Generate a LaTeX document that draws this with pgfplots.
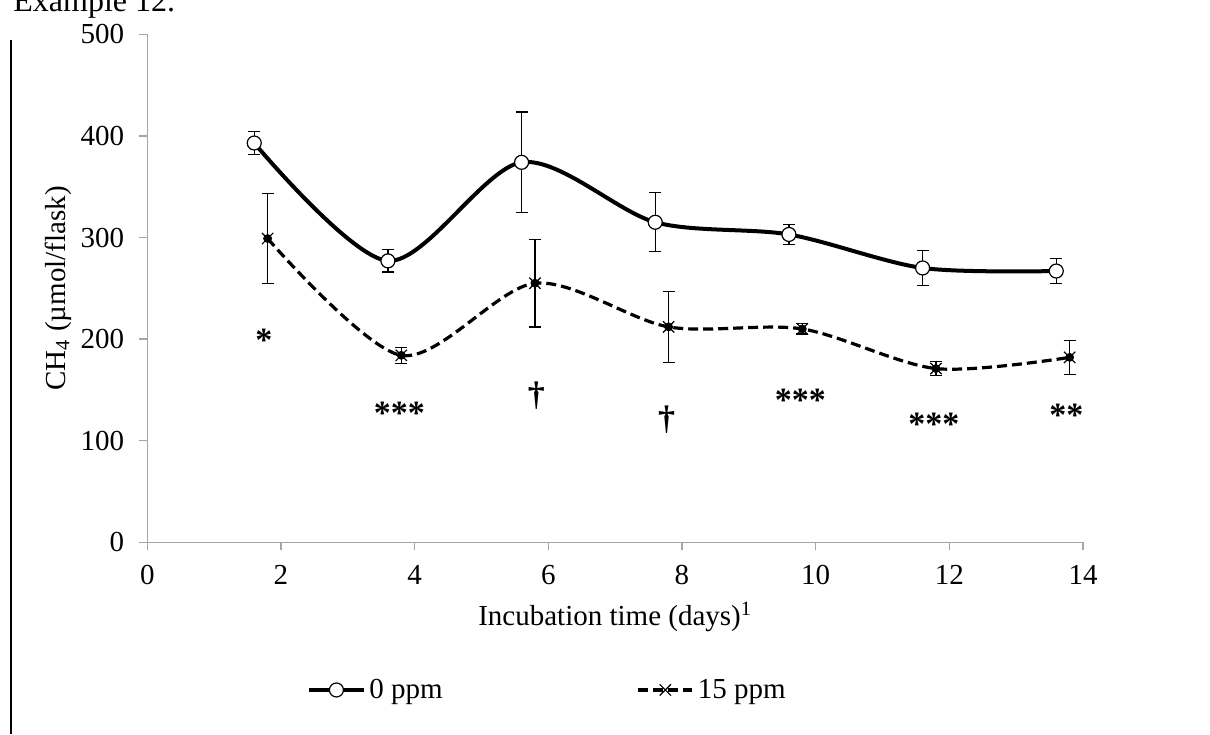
\documentclass[border=0pt]{standalone}
\usepackage{fontspec}
\setmainfont{Liberation Serif}
\usepackage{pgfplots}
\pgfplotsset{compat=1.18}

\newcommand\ticksize{\fontsize{14.5}{17}\selectfont}
\newcommand\sigsize{\fontsize{17}{20}\selectfont\bfseries}

\begin{document}
\begin{tikzpicture}
\begin{axis}[
    at={(73.65pt,95.85pt)}, anchor=south west,
    scale only axis, width=467.85pt, height=254pt,
    xmin=0, xmax=14, ymin=0, ymax=500,
    xtick={0,2,...,14}, ytick={0,100,...,500},
    axis x line=bottom, axis y line=left,
    axis line style={-, draw=gray!70, line width=0.7pt},
    tick style={draw=gray!70, line width=0.7pt},
    tick align=outside, major tick length=4pt,
    /pgf/number format/assume math mode=true,
    ticklabel style={font=\ticksize},
    yticklabel style={anchor=east, xshift=-4pt},
    xticklabel style={anchor=north, yshift=-4pt},
    label style={font=\ticksize},
    xlabel={Incubation time (days)\textsuperscript{1}},
    ylabel={CH\textsubscript{4} (µmol/flask)},
    xlabel style={at={(axis description cs:0.5,-0.147)}, anchor=center},
    ylabel style={at={(axis description cs:-0.0954,0.5)}, anchor=center},
    legend style={at={(axis description cs:0.1707,-0.2907)}, anchor=west,
        draw=none, fill=none, font=\ticksize, legend columns=2,
        inner sep=0pt},
    legend image code/.code={
        \draw[mark repeat=2, mark phase=2, #1]
            plot coordinates {(0pt,0pt) (13.5pt,0pt) (27pt,0pt)};
    },
]
% error bars first so the markers sit on top
\addplot[forget plot, only marks, mark=none,
    error bars/.cd, y dir=both, y explicit,
    error bar style={black, solid, line width=0.6pt},
    error mark options={rotate=90, mark size=3pt, line width=0.6pt, solid}]
coordinates {
    (1.6,393) +- (0,11)
    (3.6,277) +- (0,11)
    (5.6,374) +- (0,49.5)
    (7.6,315) +- (0,29)
    (9.6,303) +- (0,10)
    (11.6,270) +- (0,17)
    (13.6,267) +- (0,12)
};
\addplot[forget plot, only marks, mark=none,
    error bars/.cd, y dir=both, y explicit,
    error bar style={black, solid, line width=0.6pt},
    error mark options={rotate=90, mark size=3pt, line width=0.6pt, solid}]
coordinates {
    (1.8,299) +- (0,44)
    (3.8,184) +- (0,8)
    (5.8,255) +- (0,43)
    (7.8,212) +- (0,35)
    (9.8,210) +- (0,5)
    (11.8,171) +- (0,7)
    (13.8,182) +- (0,17)
};

\addplot[black, line width=2pt, smooth, mark=*, mark size=3.5pt,
    mark options={solid, fill=white, draw=black, line width=0.6pt}]
coordinates {
    (1.6,393) (3.6,277) (5.6,374) (7.6,315) (9.6,303) (11.6,270) (13.6,267)
};
\addlegendentry{0 ppm\hspace*{95pt}}

\addplot[black, line width=1.6pt, smooth, dash pattern=on 5pt off 2.5pt,
    mark=x, mark size=4pt, mark options={solid, line width=0.6pt}]
coordinates {
    (1.8,299) (3.8,184) (5.8,255) (7.8,212) (9.8,210) (11.8,171) (13.8,182)
};
\addlegendentry{15 ppm}

% significance marks
\node[font=\sigsize] at (axis cs:1.745,199) {*};
\node[font=\sigsize] at (axis cs:3.77,127) {***};
\node[font=\sigsize] at (axis cs:5.82,144) {†};
\node[font=\sigsize] at (axis cs:7.77,121) {†};
\node[font=\sigsize] at (axis cs:9.77,140) {***};
\node[font=\sigsize] at (axis cs:11.77,116) {***};
\node[font=\sigsize] at (axis cs:13.75,125) {**};
\end{axis}

\draw[line width=0.75pt] (5.5pt,0pt) -- (5.5pt,347pt);
\node[anchor=base west, inner sep=0pt, font=\fontsize{16}{19}\selectfont]
    at (6.5pt,361pt) {Example 12.};

\pgfresetboundingbox
\path[use as bounding box] (0,0) rectangle (605pt,367pt);
\end{tikzpicture}
\end{document}
